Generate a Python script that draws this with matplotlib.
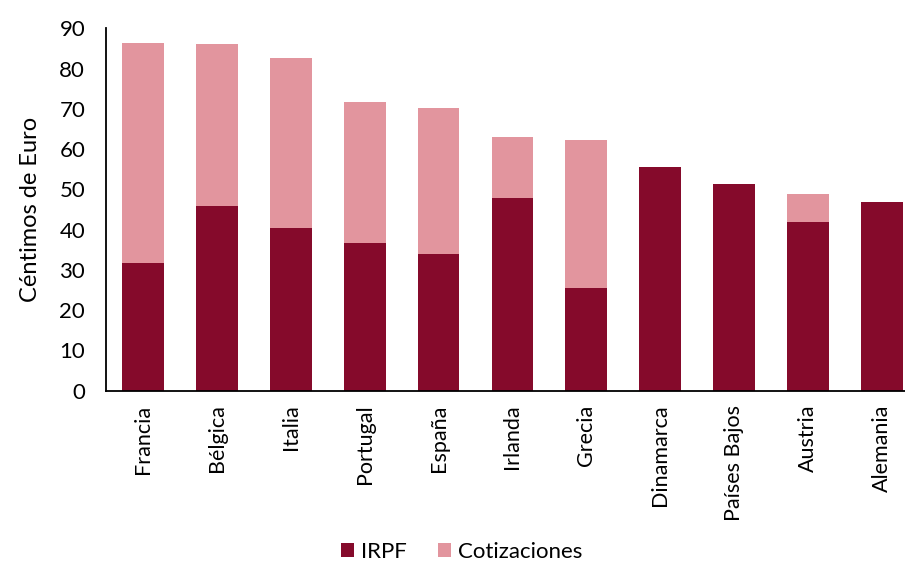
import matplotlib.pyplot as plt
import numpy as np

# --- Data ---
paises = ['Francia', 'Bélgica', 'Italia', 'Portugal', 'España', 'Irlanda',
          'Grecia', 'Dinamarca', 'Países Bajos', 'Austria', 'Alemania']
irpf = [31.8, 45.9, 40.4, 36.8, 33.9, 47.9, 25.5, 55.5, 51.3, 41.9, 46.9]
cotizaciones = [54.6, 40.3, 42.2, 34.9, 36.4, 15.1, 36.8, 0, 0, 6.9, 0]
yticks = [0, 10, 20, 30, 40, 50, 60, 70, 80, 90]

plt.rcParams['font.family'] = ['Lato', 'DejaVu Sans']

fig = plt.figure(figsize=(9.05, 5.62), dpi=100)
ax = fig.add_axes([0.1171, 0.3048, 0.8983, 0.6448])

x = np.arange(len(paises))
ax.bar(x, irpf, width=0.565, color='#850A2B', label='IRPF')
ax.bar(x, cotizaciones, width=0.565, bottom=irpf, color='#E2959E', label='Cotizaciones')

ax.set_xlim(-0.5, len(paises) - 0.5)
ax.set_ylim(0, 90)
ax.set_yticks(yticks)
ax.set_xticks(x)
ax.set_xticklabels(paises, rotation=90, fontsize=15.5)
ax.tick_params(axis='y', labelsize=16, length=0, pad=15)
ax.tick_params(axis='x', length=0, pad=10)
ax.set_ylabel('Céntimos de Euro', fontsize=17, labelpad=13)

for s in ['top', 'right']:
    ax.spines[s].set_visible(False)
ax.spines['left'].set_linewidth(1.3)
ax.spines['bottom'].set_linewidth(1.3)

fig.legend(loc='center', bbox_to_anchor=(0.51, 0.018), ncol=2, frameon=False,
           fontsize=16, handlelength=0.6, handleheight=0.6, handletextpad=0.3,
           columnspacing=1.4)

plt.savefig('out.png', dpi=100)
